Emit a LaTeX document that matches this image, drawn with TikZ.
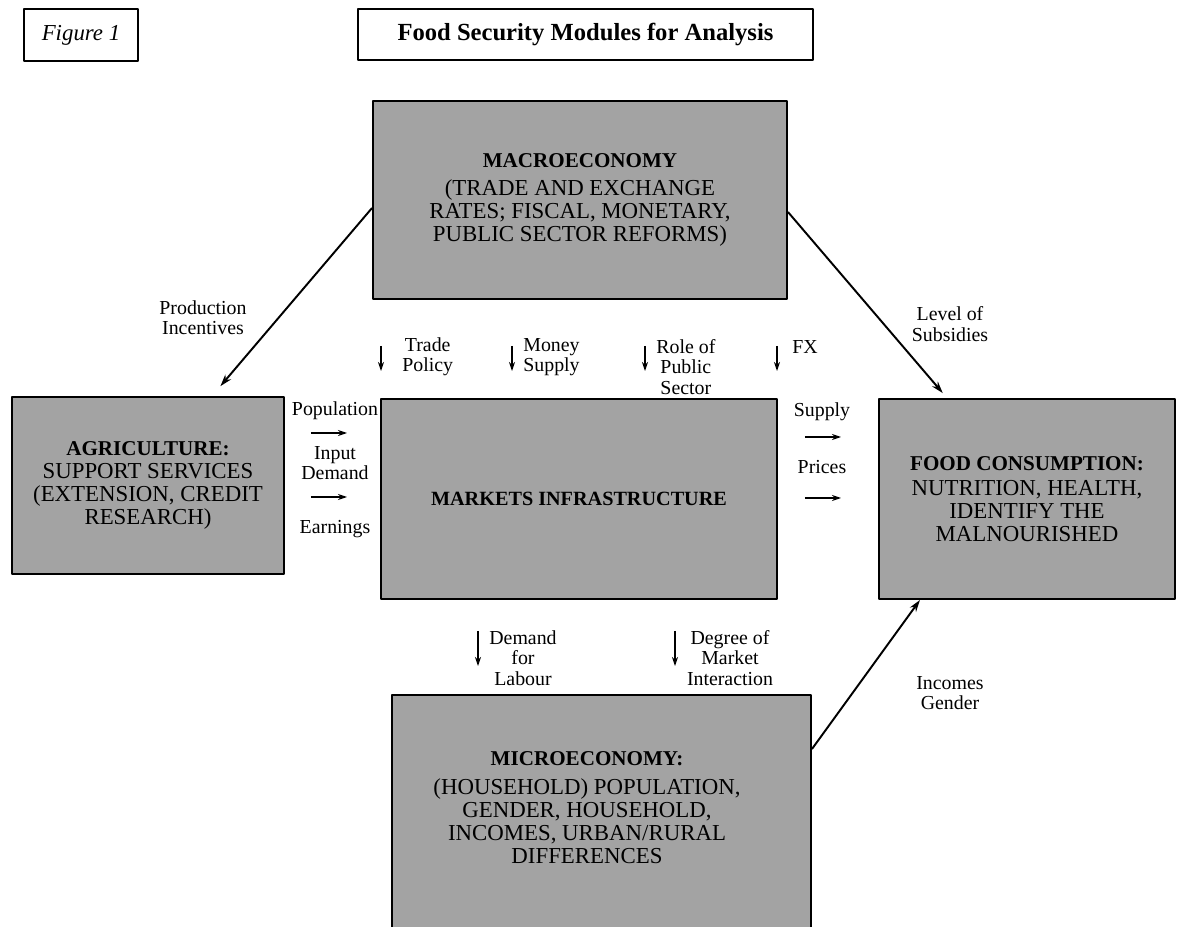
\documentclass[tikz,border=0pt]{standalone}
\usepackage{fontspec}
\setmainfont{Liberation Serif}
\usetikzlibrary{calc,arrows.meta}
\newcommand{\modhead}[1]{{\fontsize{12}{13.2}\selectfont\bfseries #1}}
\begin{document}
\begin{tikzpicture}[x=0.2mm, y=-0.2mm, line join=round, >={Stealth[length=2.4mm, width=1.5mm]},
	module/.style={draw, line width=1.1pt, fill=black!36, align=center, inner sep=0pt, font=\fontsize{13}{13.2}\selectfont},
	modtext/.style={align=center, inner sep=0pt, font=\fontsize{13}{13.2}\selectfont},
	lbl/.style={align=center, inner sep=0pt, font=\fontsize{11.3}{11.6}\selectfont},
	flow/.style={->, line width=1.1pt},
	tick/.style={-{Stealth[length=1.8mm, width=1.2mm]}, line width=1pt}]
	\useasboundingbox (0,0) rectangle (1180,927);
	% header
	\node[draw, line width=0.8pt, minimum width=22.8mm, minimum height=10.4mm, font=\fontsize{13}{15}\selectfont\itshape] (fig) at (81,35) {Figure 1};
	\node[draw, line width=0.8pt, minimum width=91mm, minimum height=10.2mm, font=\fontsize{14}{15}\selectfont\bfseries] (title) at (585.5,34.5) {Food Security Modules for Analysis};
	% modules
	\node[module, minimum width=82.8mm, minimum height=39.6mm] (macro) at (580,200) {\modhead{MACROECONOMY}\\[3pt] (TRADE AND EXCHANGE\\ RATES; FISCAL, MONETARY,\\ PUBLIC SECTOR REFORMS)};
	\node[module, minimum width=54.4mm, minimum height=35.4mm] (agri) at (148,485.5) {\modhead{AGRICULTURE:}\\ SUPPORT SERVICES\\ (EXTENSION, CREDIT\\ RESEARCH)};
	\node[module, minimum width=79.2mm, minimum height=40mm] (markets) at (579,499) {{\fontsize{11.5}{13}\selectfont\bfseries MARKETS INFRASTRUCTURE}};
	\node[module, minimum width=59.2mm, minimum height=40mm] (food) at (1027,499) {\modhead{FOOD CONSUMPTION:}\\[1pt] NUTRITION, HEALTH,\\ IDENTIFY THE\\ MALNOURISHED};
	\begin{scope}
		\clip (0,0) rectangle (1180,927);
		\node[module, minimum width=83.8mm, minimum height=53mm] (micro) at (601.5,827.5) {};
	\end{scope}
	\node[modtext] (microtext) at (587,808) {\modhead{MICROECONOMY:}\\[3pt] (HOUSEHOLD) POPULATION,\\ GENDER, HOUSEHOLD,\\ INCOMES, URBAN/RURAL\\ DIFFERENCES};
	% diagonal links
	\draw[flow, shorten >=2.6mm] (macro.west |- 0,208) -- (agri.north -| 212,0);
	\draw[flow, shorten >=1.3mm] (macro.east |- 0,212) -- (food.north -| 947,0);
	\draw[flow] (micro.east |- 0,749) -- (food.south -| 920,0);
	\node[lbl] (prodinc) at (203,318) {Production\\ Incentives};
	\node[lbl] (subsid) at (950,324) {Level of\\ Subsidies};
	\node[lbl] (incgen) at (950,693) {Incomes\\ Gender};
	% macro -> markets
	\foreach \x in {381,512,645,777}
		\draw[tick, shorten <=9.2mm, shorten >=5.4mm] (macro.south -| \x,0) -- (markets.north -| \x,0);
	\node[lbl, anchor=west] (trade) at (402,357) {Trade\\ Policy};
	\node[lbl, anchor=west] (money) at (523,357) {Money\\ Supply};
	\node[lbl, anchor=west] (role) at (656,367) {Role of\\ Public\\ Sector};
	\node[lbl, anchor=west] (fx) at (792,347) {FX};
	% agriculture -> markets
	\foreach \y in {433,497}
		\draw[tick, shorten <=5.2mm, shorten >=6.6mm] (agri.east |- 0,\y) -- (markets.west |- 0,\y);
	\node[lbl] (pop) at (335,411) {Population};
	\node[lbl] (inpdem) at (335,463) {Input\\ Demand};
	\node[lbl] (earn) at (335,529) {Earnings};
	% markets -> food
	\foreach \y in {437,498}
		\draw[tick, shorten <=5.4mm, shorten >=7.4mm] (markets.east |- 0,\y) -- (food.west |- 0,\y);
	\node[lbl] (supply) at (822,412) {Supply};
	\node[lbl] (prices) at (822,467) {Prices};
	% markets -> micro
	\foreach \x in {478,675}
		\draw[tick, shorten <=6.2mm, shorten >=5.6mm] (markets.south -| \x,0) -- (micro.north -| \x,0);
	\node[lbl] (demlab) at (523,658) {Demand\\ for\\ Labour};
	\node[lbl] (degree) at (730,658) {Degree of\\ Market\\ Interaction};
\end{tikzpicture}
\end{document}
